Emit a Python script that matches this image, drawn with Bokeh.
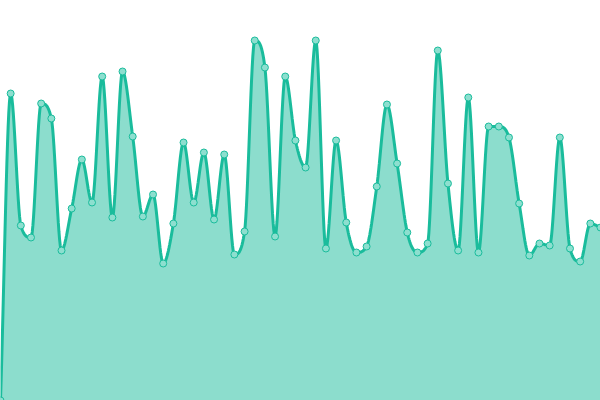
import numpy as np
from bokeh.plotting import figure
from bokeh.models import Range1d
from bokeh.embed import file_html
from bokeh.resources import INLINE

# data: 60 points (index, value)
index = list(range(60))
values = [0, 307, 175, 163, 297, 282, 150, 192, 241, 198,
          324, 183, 329, 264, 184, 206, 137, 177, 258, 198,
          248, 181, 246, 146, 169, 360, 333, 164, 324, 260,
          233, 360, 152, 260, 178, 148, 154, 214, 296, 237,
          168, 148, 157, 350, 217, 150, 303, 148, 274, 274,
          263, 197, 145, 157, 155, 263, 152, 139, 177, 173]

LINE = "#1abc9c"
MARK = "#8ddfcf"


def monotone_path(xs, ys, n=16):
    """Monotone cubic (Fritsch-Carlson) rendering path through the data points."""
    xs = np.asarray(xs, float)
    ys = np.asarray(ys, float)
    k = len(xs)
    dx = np.diff(xs)
    dy = np.diff(ys)
    d = dy / dx
    m = np.zeros(k)
    m[0] = d[0]
    m[-1] = d[-1]
    for i in range(1, k - 1):
        if d[i - 1] * d[i] <= 0:
            m[i] = 0.0
        else:
            m[i] = (d[i - 1] + d[i]) / 2.0
    for i in range(k - 1):
        if d[i] == 0:
            m[i] = 0.0
            m[i + 1] = 0.0
            continue
        a = m[i] / d[i]
        b = m[i + 1] / d[i]
        s = a * a + b * b
        if s > 9:
            t = 3 / np.sqrt(s)
            m[i] = t * a * d[i]
            m[i + 1] = t * b * d[i]
    px, py = [], []
    for i in range(k - 1):
        h = dx[i]
        tt = np.linspace(0, 1, n, endpoint=(i == k - 2))
        h00 = 2 * tt**3 - 3 * tt**2 + 1
        h10 = tt**3 - 2 * tt**2 + tt
        h01 = -2 * tt**3 + 3 * tt**2
        h11 = tt**3 - tt**2
        px.extend(xs[i] + tt * h)
        py.extend(h00 * ys[i] + h10 * h * m[i] + h01 * ys[i + 1] + h11 * h * m[i + 1])
    return px, py


W, H = 600, 400
sx = W / 59.0
p = figure(width=W, height=H, output_backend="svg", toolbar_location=None,
           x_range=Range1d(0, 59), y_range=Range1d(0, 400),
           min_border=0, min_border_left=0, min_border_right=0,
           min_border_top=0, min_border_bottom=0)
p.axis.visible = False
p.grid.visible = False
p.outline_line_color = None
p.background_fill_color = "white"
p.border_fill_color = "white"

cx, cy = monotone_path(np.array(index) * sx, values)
cx = [x / sx for x in cx]
ax = [cx[0]] + cx + [cx[-1]]
ay = [0] + cy + [0]
p.patch(ax, ay, fill_color=LINE, fill_alpha=0.5, line_color=None)
p.line(cx, cy, line_color=LINE, line_width=3)
p.scatter(index, values, size=7, fill_color=MARK, line_color=LINE, line_width=1)

open("out.html", "w").write(file_html(p, INLINE))
